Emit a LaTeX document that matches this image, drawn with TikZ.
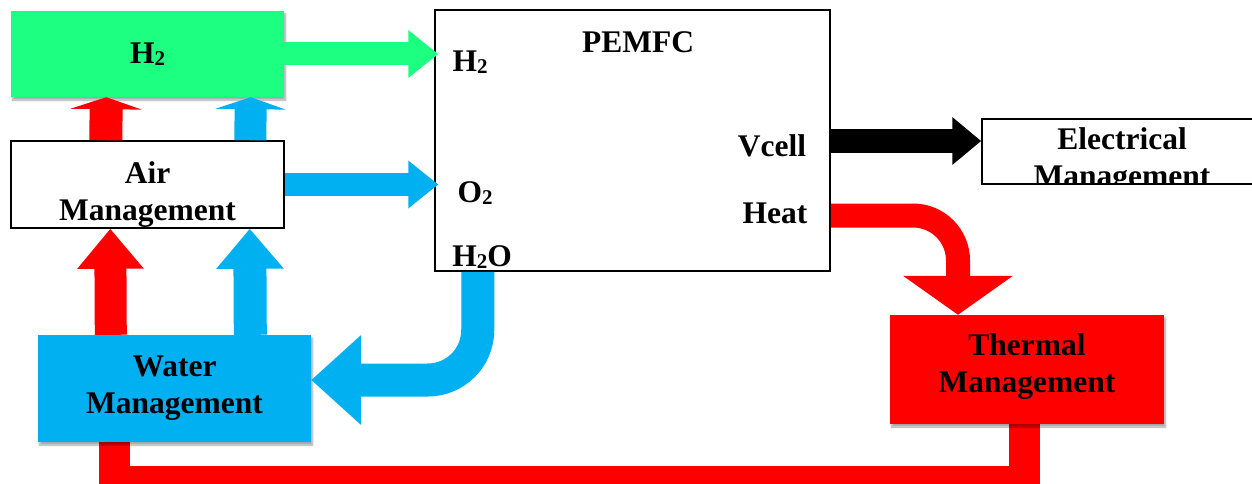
\documentclass[tikz,border=0pt]{standalone}
\usepackage{fontspec}
\setmainfont{Liberation Serif}
\usetikzlibrary{arrows.meta,shadows.blur,backgrounds}
\definecolor{hgreen}{RGB}{28,255,128}
\definecolor{wblue}{RGB}{0,176,240}
\definecolor{tred}{RGB}{255,0,0}
\newcommand{\lowidx}[1]{\raisebox{-2pt}{\fontsize{21}{21}\selectfont #1}}
\begin{document}
\begin{tikzpicture}[x=1pt,y=-1pt,font=\fontsize{31.5}{37}\selectfont\bfseries,
  box/.style={minimum width=273pt,inner sep=0pt,align=center},
  shade/.style={blur shadow={shadow xshift=1.5pt,shadow yshift=-3pt,shadow blur steps=6,shadow opacity=35}},
  frame/.style={draw,line width=1.5pt,inner sep=0pt}]
\useasboundingbox (0,0) rectangle (1252,484);
\node[box,fill=hgreen,minimum height=86pt,shade](H) at (147.5,54){H\lowidx{2}};
\node[box,frame,minimum height=87pt](A) at (147.5,184.5){\rule{0pt}{41pt}Air\\Management};
\node[box,fill=wblue,minimum height=107pt,shade](W) at (174.5,388.5){Water\\Management};
\node[frame,minimum width=395pt,minimum height=261pt](P) at (632.5,140.5){};
\node[frame,minimum width=290pt,minimum height=65pt](E) at (1127,151.5){};
\node[box,fill=tred,minimum width=274pt,minimum height=109pt,shade](T) at (1027,369.5){Thermal\\Management\rule[-13pt]{0pt}{0pt}};
% labels of the stack
\node(P0) at (638,42){PEMFC};
\node(P1) at (470,62){H\lowidx{2}};
\node(P2) at (475,193){O\lowidx{2}};
\node(P3) at (482,257){H\lowidx{2}O};
\node(P4) at (772,146){Vcell};
\node(P5) at (775,213){Heat};
\begin{scope}
\clip (E.south west) rectangle (E.north east);
\node[align=center](E1) at (1122,160.5){Electrical\\Management};
\end{scope}
% flows
\draw[hgreen,line width=23pt,-{Triangle[width=46pt,length=30pt]}](H.east)--([xshift=4pt]H.east-|P.west);
\draw[wblue,line width=23pt,-{Triangle[width=46pt,length=30pt]}](A.east)--([xshift=4pt]A.east-|P.west);
\draw[tred,line width=33pt,-{Triangle[width=71pt,length=12pt]}]([xshift=95.5pt]A.north west)--([xshift=95.5pt]H.south west);
\draw[wblue,line width=32pt,-{Triangle[width=70pt,length=12pt]}]([xshift=240pt]A.north west)--([xshift=240pt]H.south west);
\draw[tred,line width=32pt,-{Triangle[width=64pt,length=40pt]}]([xshift=73pt]W.north west)--([xshift=100pt]A.south west);
\draw[wblue,line width=33pt,-{Triangle[width=65pt,length=40pt]}]([xshift=212.5pt]W.north west)--([xshift=239.5pt]A.south west);
\draw[line width=23pt,-{Triangle[width=46pt,length=29pt]}]([yshift=5pt]P.east|-P4)--([yshift=5pt]E.west|-P4);
\draw[tred,line width=24pt,rounded corners=45pt,-{Triangle[width=108pt,length=39pt]}]([yshift=-2.5pt]P.east|-P5)-|([xshift=-69pt]T.north);
\draw[wblue,line width=33pt,rounded corners=50pt,-{Triangle[width=87pt,length=50pt]}]([xshift=43.5pt]P.south west)|-([yshift=8.5pt]W.east);
\coordinate(L) at (0,481);
\begin{scope}[on background layer]
\draw[tred,line width=31pt]([xshift=77pt]W.south west)--([xshift=77pt]W.south west|-L)-|([xshift=-3pt]T.south);
\end{scope}
\end{tikzpicture}
\end{document}
